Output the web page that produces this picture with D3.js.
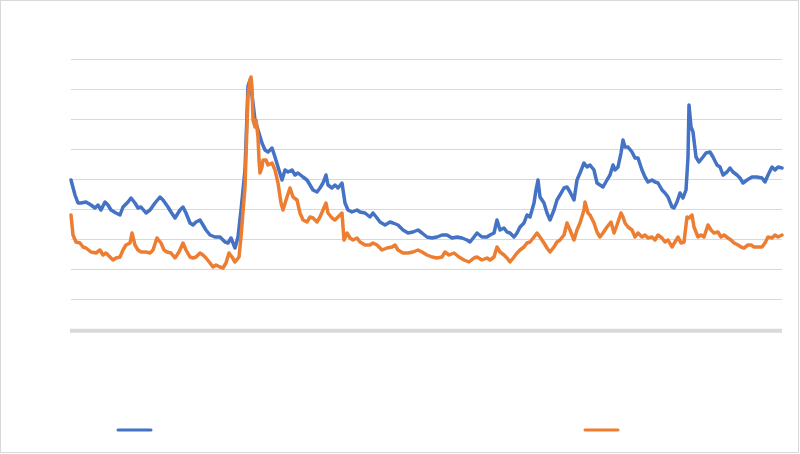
<!DOCTYPE html>
<html>
<head>
<meta charset="utf-8">
<script src="https://cdn.jsdelivr.net/npm/d3@7"></script>
<style>
  body { margin: 0; background: #fff; }
</style>
</head>
<body>
<div id="chart"></div>
<script>
var blueT = [0,4,7,10,15,20,24,27,30,34,37,40,45,49,52,57,60,64,67,70,75,79,84,89,92,97,100,104,109,112,115,119,122,125,129,132,135,139,144,149,154,157,160,164,167,170,174,177,179,182,184,187,191,194,197,201,204,207,211,214,217,221,224,227,232,236,239,242,246,249,252,255,257,261,264,267,271,274,277,281,286,289,294,299,302,306,309,314,319,322,327,332,337,342,347,351,356,361,366,371,376,381,386,391,396,399,403,406,411,416,419,423,426,429,433,436,439,443,446,449,453,456,459,463,465,467,469,473,476,479,483,486,489,493,496,499,503,506,509,513,516,519,523,526,529,532,536,539,542,544,547,550,552,554,557,561,564,567,571,574,577,581,584,587,591,594,597,601,603,606,609,612,615,617,618,620,622,625,628,632,635,639,642,646,649,652,656,659,662,666,669,672,676,681,686,691,694,697,701,704,707,711];
var blueV = [149,134,126,126,127,124,121,124,119,127,124,119,116,114,122,127,131,126,121,122,116,119,126,132,129,122,117,111,119,122,116,106,104,107,109,104,99,94,92,92,87,86,91,81,92,119,159,243,249,226,209,199,186,179,177,181,172,162,149,159,157,159,154,156,152,149,144,139,137,141,146,154,144,141,144,141,146,126,119,117,119,117,116,112,116,111,107,104,107,106,104,99,96,97,99,96,92,91,92,94,94,91,92,91,89,87,92,96,92,92,94,96,109,99,101,97,96,92,96,102,106,114,112,126,139,149,132,126,116,109,119,129,134,141,142,137,129,149,156,166,162,164,159,146,144,142,149,154,164,159,162,176,189,182,182,177,171,171,159,152,147,149,147,146,139,136,132,122,121,127,136,131,139,172,224,202,197,172,167,172,176,177,172,164,162,154,157,161,157,154,151,146,149,152,152,151,147,154,162,159,162,161];

var orangeT = [0,2,5,9,12,15,20,25,29,32,35,39,42,45,49,52,55,59,61,64,67,70,75,79,82,86,90,93,96,100,104,108,112,115,119,122,125,129,132,135,139,142,145,149,152,155,158,161,164,168,170,174,177,179,180,181,182,184,185,187,188,189,191,192,195,197,201,204,207,210,212,216,219,222,226,229,232,236,239,242,246,249,252,255,257,261,264,267,271,273,276,279,282,286,289,294,299,302,306,311,316,321,324,327,332,337,342,347,351,356,361,366,371,374,378,383,388,393,398,403,406,411,416,419,423,426,429,433,436,439,443,446,449,453,456,459,463,466,469,473,476,479,483,486,489,493,496,499,503,506,509,513,514,517,519,523,526,529,532,536,540,543,546,550,552,554,557,561,564,567,571,574,577,581,584,587,591,594,597,601,604,607,610,613,616,618,621,623,627,630,633,637,640,643,647,650,653,657,660,663,667,670,673,677,680,683,687,691,694,697,701,704,707,711];
var orangeV = [114,94,87,86,82,81,77,76,79,74,76,72,69,71,72,79,84,86,96,84,79,77,77,76,79,91,86,79,77,76,71,77,86,79,72,71,72,76,74,71,66,62,64,62,61,66,76,72,67,72,92,142,234,249,252,242,209,202,209,192,169,156,162,169,169,164,166,159,146,126,119,132,141,132,129,116,109,107,112,111,107,112,119,126,116,111,109,112,116,89,96,91,89,91,87,84,84,86,84,79,81,82,84,79,76,76,77,79,77,74,72,71,72,77,74,76,72,69,67,71,72,69,71,69,72,82,77,74,71,67,72,76,79,82,86,87,92,96,92,86,81,77,82,87,89,94,106,99,89,99,106,119,127,116,114,106,97,92,96,102,107,96,104,116,112,106,102,99,92,96,92,94,91,92,89,94,91,87,89,82,87,92,86,87,112,111,114,102,92,94,92,104,99,96,97,92,94,91,89,86,84,82,81,84,84,82,82,82,86,92,91,94,92,94];

var yTicks = [30, 60, 90, 120, 150, 180, 210, 240, 270];

var seriesList = [
  { name: "blue", t: blueT, v: blueV, color: "#4472C4", legendX: 118 },
  { name: "orange", t: orangeT, v: orangeV, color: "#ED7D31", legendX: 585 }
];

var W = 800, H = 454;
var plot = { left: 71, right: 783, top: 59, bottom: 329 };

var svg = d3.select("#chart").append("svg")
  .attr("width", W)
  .attr("height", H);

// chart frame
svg.append("rect")
  .attr("x", 0.5).attr("y", 0.5)
  .attr("width", 798).attr("height", 452)
  .attr("fill", "#fff")
  .attr("stroke", "#d9d9d9");

var x = d3.scaleLinear().domain([0, 711]).range([plot.left, plot.right - 1]);
var y = d3.scaleLinear().domain([0, 270]).range([plot.bottom, plot.top]);

// gridlines
var grid = svg.append("g")
  .attr("transform", "translate(" + plot.left + ",0)")
  .call(d3.axisLeft(y).tickValues(yTicks).tickSize(-(plot.right - plot.left - 1)).tickFormat(""));
grid.select(".domain").remove();
grid.selectAll(".tick line").attr("stroke", "#d9d9d9").attr("stroke-width", 1);

// horizontal axis band
svg.append("line")
  .attr("x1", plot.left - 1).attr("x2", plot.right - 1)
  .attr("y1", y(0) + 1.8).attr("y2", y(0) + 1.8)
  .attr("stroke", "#d9d9d9")
  .attr("stroke-width", 4);

var line = d3.line()
  .x(function (d) { return x(d[0]); })
  .y(function (d) { return y(d[1]); });

seriesList.forEach(function (s) {
  var pts = s.t.map(function (t, i) { return [t, s.v[i]]; });
  svg.append("path")
    .datum(pts)
    .attr("fill", "none")
    .attr("stroke", s.color)
    .attr("stroke-width", 3.5)
    .attr("stroke-linejoin", "round")
    .attr("stroke-linecap", "round")
    .attr("d", line);

  // legend swatch
  svg.append("line")
    .attr("x1", s.legendX).attr("x2", s.legendX + 33)
    .attr("y1", 430).attr("y2", 430)
    .attr("stroke", s.color)
    .attr("stroke-width", 3)
    .attr("stroke-linecap", "round");
});
</script>
</body>
</html>
